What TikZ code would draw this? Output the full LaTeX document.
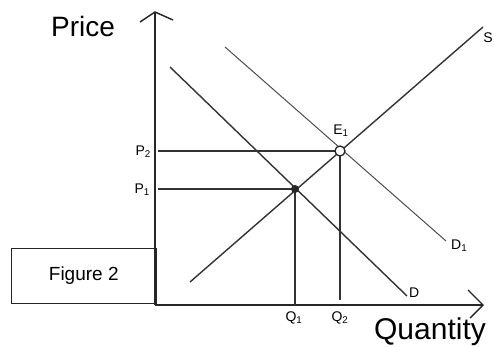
\documentclass[tikz,border=0pt]{standalone}
\usepackage{fontspec}
\setmainfont{Liberation Sans}
\begin{document}
\begin{tikzpicture}[x=1pt,y=-1pt,
  axis/.style={line width=1.4pt,draw=black!85},
  curve/.style={line width=1.4pt,draw=black!80},
  thin curve/.style={line width=1pt,draw=black!70},
  guide/.style={line width=1.3pt,draw=black!80},
  lbl/.style={inner sep=0pt,font=\fontsize{14}{15}\selectfont},
  big/.style={inner sep=0pt,font=\fontsize{28}{30}\selectfont}]
\useasboundingbox (0,0) rectangle (494,347);
% axes
\coordinate (O) at (155,305);
\coordinate (ytop) at (155,12);
\coordinate (xend) at (483,305);
\draw[axis] (O) -- (ytop);
\draw[axis] (140,22) -- (ytop) -- (173,20);
\draw[axis] (O) -- (xend);
\draw[axis] (468,290) -- (xend) -- (470,318);
% figure box
\node[draw=black!85,line width=1.5pt,minimum width=145pt,minimum height=55pt,anchor=south east,
  font=\fontsize{19}{20}\selectfont] (fig) at (157,304) {Figure 2};
% points
\coordinate (E0) at (295,189);
\coordinate (E1) at (340,151);
% supply
\coordinate (Sa) at (190,282);
\coordinate (Sb) at (483,27);
\draw[curve] (Sa) -- (Sb);
\node[lbl,anchor=east] (S) at (493,38) {S};
% demand D
\coordinate (Da) at (170,67);
\coordinate (Db) at (407,296);
\draw[curve] (Da) -- (Db);
\node[lbl,anchor=west] (D) at (409,293) {D};
% demand D1
\coordinate (D1a) at (225,47);
\coordinate (D1b) at (446,241);
\draw[thin curve] (D1a) -- (D1b);
\node[lbl,anchor=west] (D1) at (451,246) {D\textsubscript{1}};
% guides
\coordinate (P2y) at (158,151);
\coordinate (P1y) at (158,189);
\coordinate (Q1x) at (295,305);
\coordinate (Q2x) at (340,300);
\draw[guide] (P2y) -- (E1);
\draw[guide] (P1y) -- (E0);
\draw[guide] (E0) -- (Q1x);
\draw[guide] (E1) -- (Q2x);
\fill[black!85] (E0) circle (4pt);
\draw[line width=1.3pt,draw=black!85,fill=white] (E1) circle (5pt);
\node[lbl] (E1l) at (341,131) {E\textsubscript{1}};
\node[lbl,anchor=east] (P2) at (151,152) {P\textsubscript{2}};
\node[lbl,anchor=east] (P1) at (150,190) {P\textsubscript{1}};
\node[lbl] (Q1) at (294,318) {Q\textsubscript{1}};
\node[lbl] (Q2) at (340,318) {Q\textsubscript{2}};
\node[big] (price) at (83,26) {Price};
\node[big,font=\fontsize{30}{32}\selectfont] (qty) at (430,332) {Quantity};
\end{tikzpicture}
\end{document}
